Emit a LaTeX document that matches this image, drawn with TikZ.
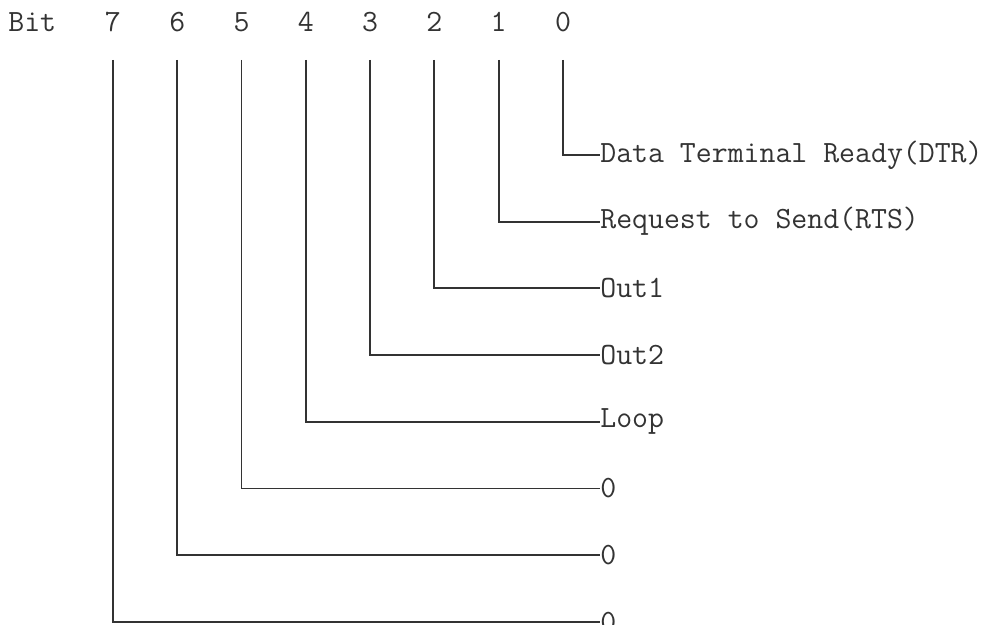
\documentclass[tikz,border=0pt]{standalone}
\usepackage{tikz}
\usetikzlibrary{calc,positioning}
\definecolor{regInk}{HTML}{333333}
\tikzset{
  bit num/.style={font=\fontsize{17.6}{20}\selectfont\ttfamily, text=regInk,
    inner sep=0pt, anchor=base},
  bit label/.style={font=\fontsize{17.6}{20}\selectfont\ttfamily, text=regInk,
    inner sep=0pt, anchor=west},
  bit wire/.style={draw=regInk, line width=1.1pt}
}

\begin{document}
\begin{tikzpicture}[x=0.02cm,y=-0.02cm]
  \useasboundingbox (0,0) rectangle (987,625);
  \node[bit num, anchor=base west] (bit) at (8,32) {Bit};
  \foreach \i/\txt in {0/{Data Terminal Ready(DTR)},1/{Request to Send(RTS)},
      2/Out1,3/Out2,4/Loop,5/0,6/0,7/0} {
    \node[bit num] (b\i) at ({563-64.3*\i},32) {\i};
    \coordinate (t\i) at ({563-64.3*\i},60);
    \node[bit label] (l\i) at (600,{155+66.7*\i}) {\txt};
    \draw[bit wire] (t\i) |- (l\i.west);
  }
\end{tikzpicture}
\end{document}
